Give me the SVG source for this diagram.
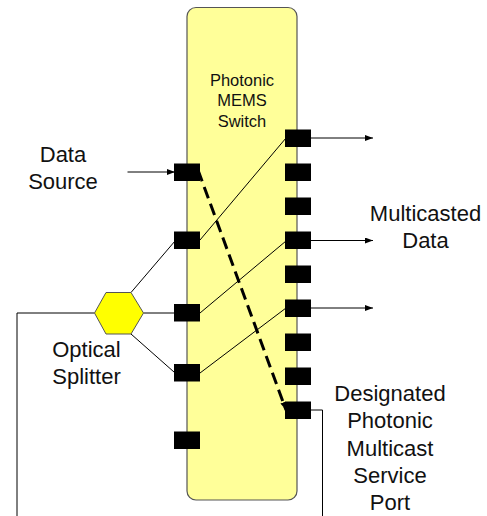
<svg xmlns="http://www.w3.org/2000/svg" width="487" height="516" viewBox="0 0 487 516">
<defs>
<style>
.lbl{font-family:"Liberation Sans",Arial,sans-serif;font-size:22px;fill:#111;text-anchor:middle}
.sw{font-family:"Liberation Sans",Arial,sans-serif;font-size:16.5px;fill:#111;text-anchor:middle}
.port{fill:#000}
.ln{stroke:#000;stroke-width:1;fill:none}
</style>
<marker id="ah" viewBox="0 0 8 6" refX="8" refY="3" markerWidth="8" markerHeight="6" markerUnits="userSpaceOnUse" orient="auto">
<path d="M0,0 L8,3 L0,6 Z" fill="#000"/>
</marker>
<marker id="ahd" viewBox="0 0 8 6" refX="8" refY="3" markerWidth="8" markerHeight="6" orient="auto" markerUnits="userSpaceOnUse">
<path d="M0,0 L8,3 L0,6 Z" fill="#000"/>
</marker>
</defs>
<rect width="487" height="516" fill="#fff"/>
<g id="switch">
<rect x="187" y="7.5" width="110" height="492.5" rx="9" fill="#FFFF99" stroke="#555" stroke-width="1.2"/>
<text class="sw" x="242" y="85.5">Photonic</text>
<text class="sw" x="242" y="106">MEMS</text>
<text class="sw" x="242" y="126.5">Switch</text>
</g>
<g id="connectors">
<line class="ln" x1="127.5" y1="172" x2="175" y2="172" marker-end="url(#ah)"/>
<line class="ln" x1="200" y1="240" x2="286" y2="138"/>
<line class="ln" x1="200" y1="313" x2="286" y2="241"/>
<line class="ln" x1="200" y1="373" x2="286" y2="308"/>
<line x1="198" y1="170" x2="286" y2="410" stroke="#000" stroke-width="3" stroke-dasharray="12,6" marker-end="url(#ahd)"/>
<line class="ln" x1="131" y1="292.5" x2="175" y2="241"/>
<line class="ln" x1="143.5" y1="313" x2="175" y2="313"/>
<line class="ln" x1="131" y1="334" x2="174" y2="372"/>
<polyline class="ln" points="94.5,313 17,313 17,516"/>
<polyline class="ln" points="310,410 322.5,410 322.5,516"/>
<line class="ln" x1="310" y1="138" x2="373" y2="138" marker-end="url(#ah)"/>
<line class="ln" x1="310" y1="240.5" x2="373" y2="240.5" marker-end="url(#ah)"/>
<line class="ln" x1="310" y1="308" x2="373" y2="308" marker-end="url(#ah)"/>
</g>
<g id="left-ports">
<rect class="port" x="174" y="163.5" width="26" height="17.5"/>
<rect class="port" x="174" y="231.5" width="26" height="17.5"/>
<rect class="port" x="174" y="304" width="26" height="17.5"/>
<rect class="port" x="174" y="364" width="26" height="17.5"/>
<rect class="port" x="174" y="431.5" width="26" height="17.5"/>
</g>
<g id="right-ports">
<rect class="port" x="285" y="129.5" width="26" height="17.5"/>
<rect class="port" x="285" y="163.5" width="26" height="17.5"/>
<rect class="port" x="285" y="197.5" width="26" height="17.5"/>
<rect class="port" x="285" y="231.5" width="26" height="17.5"/>
<rect class="port" x="285" y="265.5" width="26" height="17.5"/>
<rect class="port" x="285" y="299.5" width="26" height="17.5"/>
<rect class="port" x="285" y="333.5" width="26" height="17.5"/>
<rect class="port" x="285" y="367.5" width="26" height="17.5"/>
<rect class="port" x="285" y="401.5" width="26" height="17.5"/>
</g>
<g id="splitter">
<polygon points="94.5,313 106,292.5 131,292.5 143.5,313 131,334 106,334" fill="#FFFF00" stroke="#555" stroke-width="1"/>
</g>
<g id="label-data-source">
<text class="lbl" x="63" y="162">Data</text>
<text class="lbl" x="63" y="189">Source</text>
</g>
<g id="label-multicasted">
<text class="lbl" x="425.5" y="221">Multicasted</text>
<text class="lbl" x="425.5" y="248">Data</text>
</g>
<g id="label-splitter">
<text class="lbl" x="86.5" y="357">Optical</text>
<text class="lbl" x="86.5" y="384">Splitter</text>
</g>
<g id="label-designated">
<text class="lbl" x="390" y="401">Designated</text>
<text class="lbl" x="390" y="428.3">Photonic</text>
<text class="lbl" x="390" y="455.6">Multicast</text>
<text class="lbl" x="390" y="482.9">Service</text>
<text class="lbl" x="390" y="510">Port</text>
</g>
</svg>
